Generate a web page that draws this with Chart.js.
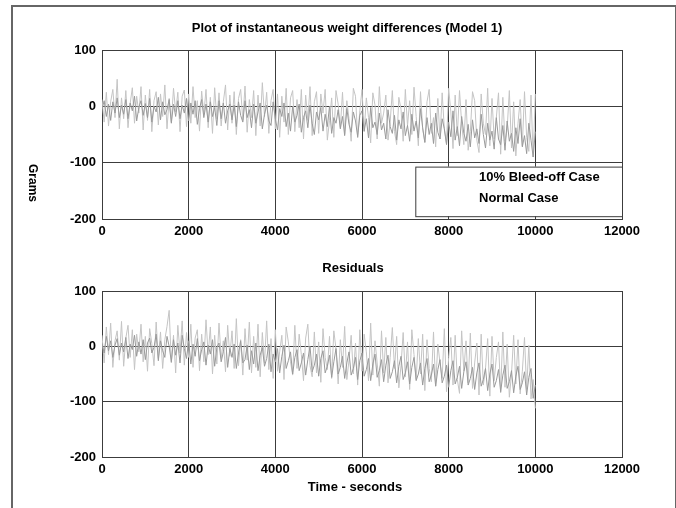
<!DOCTYPE html>
<html>
<head>
<meta charset="utf-8">
<script src="https://cdn.jsdelivr.net/npm/chart.js@4.4.1/dist/chart.umd.min.js"></script>
<style>
    body { margin: 0; background: #fff; }
    #frame { position: absolute; left: 11px; top: 5px; width: 662px; height: 520px; border: 2px solid #666; border-bottom: none; }
    canvas { position: absolute; left: 0; }
    #top { top: 0; }
    #bottom { top: 250px; }
</style>
</head>
<body>
<div id="frame"></div>
<canvas id="top" width="676" height="250"></canvas>
<canvas id="bottom" width="676" height="258"></canvas>
<script>
const timeStep = 50; // seconds between samples
const xTicks = [0, 2000, 4000, 6000, 8000, 10000, 12000];
const yTicks = [-200, -100, 0, 100];
const legendLabels = ['10% Bleed-off Case', 'Normal Case'];

// top plot - instantaneous weight differences
const bleedDiff = [
    12, -28, 25, -35, 8, 30, -20, 48, -40, 15,
    -22, 28, -38, 5, 33, -30, 18, -12, 35, -42,
    20, -25, 30, -45, 10, 26, -33, 22, -18, 38,
    -40, 14, -28, 32, -10, 25, -45, 18, 29, -36,
    22, -30, 35, -20, 10, -44, 27, -15, 30, -38,
    16, -48, 33, -22, 24, -35, 8, 38, -42, 20,
    -30, 26, -50, 14, 30, -25, 36, -46, 12, -20,
    28, -52, 20, -35, 42, -18, 25, -48, 10, 30,
    -40, 22, -55, 18, -28, 32, -50, 15, 28, -45,
    12, -38, 30, -58, 20, -25, 35, -52, 8, 26,
    -48, 22, -12, 30, -60, -25, 15, -55, 28, 4,
    -38, 25, -50, 10, -22, -62, 32, 18, -56, -8,
    30, -45, 15, -20, -65, 24, 2, -58, 35, -30,
    -12, 20, -60, -28, 28, -45, -68, 16, -5, -62,
    30, -35, 10, -50, 34, -18, -70, 26, -40, -64,
    8, 30, -48, -20, -72, 14, -58, 24, -40, -66,
    32, -10, -75, 20, -52, 28, -30, -68, 12, -78,
    -45, 26, 10, -60, -82, 22, -30, -50, 32, -70,
    14, -58, -20, 24, -85, 16, -62, -40, 28, -74,
    8, -88, -30, 12, -70, 26, -55, -80, 20, -90,
    22
];
const normalDiff = [
    -5, 10, -18, 4, -25, 8, -12, 15, -20, 2,
    -14, 12, -22, 6, -8, 18, -26, -2, 10, -16,
    5, -20, 14, -28, 0, -10, 16, -24, 8, -15,
    -6, 12, -30, 4, -18, 10, -22, 2, -12, 14,
    -26, 6, -14, 10, -32, -4, 12, -20, 4, -28,
    8, -18, -2, -34, 10, -22, 6, -30, -8, 4,
    -24, 2, -36, 8, -16, -28, 10, -20, -6, -38,
    4, -30, -10, 6, -40, -14, 2, -26, -34, 8,
    -22, -42, -4, -18, 6, -36, -12, -44, 0, -28,
    -16, 4, -46, -20, -8, -38, 2, -30, -50, -10,
    -24, -2, -44, -14, -36, 0, -48, -20, -30, -6,
    -40, -18, -52, -4, -32, -46, -10, -26, -54, -16,
    -8, -44, -22, -56, -2, -38, -28, -50, -12, -42,
    -30, -58, -6, -36, -48, -16, -60, -24, -40, -10,
    -52, -34, -62, -14, -44, -26, -56, -4, -38, -64,
    -20, -50, -30, -66, -12, -46, -58, -22, -40, -68,
    -28, -54, -8, -60, -36, -70, -18, -48, -62, -32,
    -72, -24, -56, -40, -66, -14, -50, -74, -30, -60,
    -44, -76, -20, -58, -68, -34, -78, -26, -62, -48,
    -80, -38, -66, -22, -72, -52, -84, -30, -60, -90,
    -45
];

// bottom plot - residuals
const bleedResid = [
    20, -30, 35, -15, 42, -38, 10, 28, -25, 45,
    -36, 15, 38, -20, 30, -42, 22, -10, 40, -28,
    18, -45, 32, 5, -35, 44, -22, 26, -40, 12,
    36, 65, -30, 20, -48, 38, -12, 46, -34, 25,
    -20, 40, -38, 15, 30, -44, 22, -28, 48, -15,
    35, -50, 20, -32, 42, -22, 10, -46, 38, -18,
    28, -40, 50, -35, 12, -52, 32, -25, 44, -48,
    18, -38, 40, -55, 25, -30, 46, -42, 14, -58,
    30, -45, -10, 20, -60, 35, 8, -28, -52, 38,
    -40, 22, -15, -62, 15, 40, -35, -55, 26, -48,
    8, -65, 32, -20, -42, 18, -58, 28, -5, -68,
    12, -38, 36, -60, -25, 20, -50, 6, -70, 30,
    -45, 22, -10, -62, 42, -52, 10, -30, -72, 28,
    -48, 16, -66, -20, 34, -40, 18, -75, -35, 25,
    -55, 8, -78, 30, -15, -60, 14, -50, 22, -80,
    12, -40, -64, 26, -72, 4, -30, -58, 32, -82,
    -20, 16, -70, 20, -60, -85, 28, -45, 10, -66,
    24, -76, -30, 6, -88, 22, -70, -40, 14, -90,
    18, -62, -20, 8, -84, 26, -74, 4, -92, -50,
    20, -68, 12, -86, -45, 16, -78, 2, -95, -60,
    -112
];
const normalResid = [
    5, -12, 18, -8, 10, -20, 2, 14, -16, 6,
    -10, 16, -22, 4, -6, 20, -18, 8, -14, 12,
    -24, 6, 15, -12, -2, 22, -26, 10, -8, -20,
    18, 0, -28, 12, -16, 6, -30, 20, -4, -22,
    10, -32, 4, -18, 14, -26, -6, 8, -34, 2,
    -14, 12, -36, -2, 6, -28, -10, 16, -38, -4,
    -20, 4, -40, -12, 10, -30, -24, 2, -42, -8,
    -32, 6, -44, -16, -2, -36, -22, 4, -46, -14,
    -28, -4, -48, -18, 2, -40, -26, -10, -50, -20,
    -6, -44, -30, -12, -52, -24, 0, -46, -34, -14,
    -54, -22, -8, -48, -36, -16, -56, -28, -4, -50,
    -38, -18, -58, -30, -10, -52, -40, -20, -60, -26,
    -12, -54, -42, -22, -62, -32, -14, -56, -44, -24,
    -64, -34, -16, -58, -46, -26, -66, -36, -18, -60,
    -48, -28, -68, -38, -20, -62, -50, -30, -70, -40,
    -22, -64, -52, -32, -72, -42, -24, -66, -54, -34,
    -74, -44, -26, -68, -56, -36, -76, -46, -28, -70,
    -58, -38, -78, -48, -30, -72, -60, -40, -80, -50,
    -32, -74, -62, -42, -82, -52, -34, -76, -64, -44,
    -84, -54, -36, -78, -66, -46, -88, -56, -40, -94,
    -70
];

const lightGray = '#c4c4c4';
const darkGray = '#9a9a9a';
const gridColor = '#3c3c3c';
const tickFont = { family: 'Liberation Sans, Arial, sans-serif', size: 13, weight: 'bold' };

function toPoints(values) {
    return values.map((v, i) => ({ x: i * timeStep, y: v }));
}

function text(ctx, str, x, y, size, rot) {
    ctx.save();
    ctx.font = 'bold ' + size + 'px Liberation Sans, Arial, sans-serif';
    ctx.fillStyle = '#000';
    ctx.textAlign = 'center';
    ctx.textBaseline = 'middle';
    ctx.translate(x, y);
    if (rot) ctx.rotate(rot);
    ctx.fillText(str, 0, 0);
    ctx.restore();
}

const topExtras = {
    id: 'topExtras',
    afterDraw(c) {
        const ctx = c.ctx;
        text(ctx, 'Plot of instantaneous weight differences (Model 1)', 347, 28, 13);
        text(ctx, 'Grams', 32, 183, 12, Math.PI / 2);
        // legend box
        const x0 = c.scales.x.getPixelForValue(7230);
        const x1 = c.chartArea.right;
        const y0 = c.scales.y.getPixelForValue(-107);
        const y1 = c.scales.y.getPixelForValue(-195);
        ctx.save();
        ctx.fillStyle = '#fff';
        ctx.fillRect(x0, y0, x1 - x0, y1 - y0);
        ctx.strokeStyle = gridColor;
        ctx.lineWidth = 1;
        ctx.strokeRect(x0 + 0.5, y0 + 0.5, x1 - x0, y1 - y0);
        ctx.font = 'bold 13px Liberation Sans, Arial, sans-serif';
        ctx.fillStyle = '#000';
        ctx.textBaseline = 'middle';
        ctx.fillText(legendLabels[0], 479, 177);
        ctx.fillText(legendLabels[1], 479, 198);
        ctx.restore();
    }
};

const bottomExtras = {
    id: 'bottomExtras',
    afterDraw(c) {
        text(c.ctx, 'Residuals', 353, 18, 13);
        text(c.ctx, 'Time - seconds', 355, 237, 13);
    }
};

function makeChart(id, bleed, normal, padTop, xHeight, extras) {
    const ctx = document.getElementById(id).getContext('2d');
    return new Chart(ctx, {
        type: 'line',
        data: {
            datasets: [{
                label: legendLabels[1],
                data: toPoints(normal),
                borderColor: darkGray,
                borderWidth: 1,
                pointRadius: 0,
                order: 1
            }, {
                label: legendLabels[0],
                data: toPoints(bleed),
                borderColor: lightGray,
                borderWidth: 1,
                pointRadius: 0,
                order: 2
            }]
        },
        options: {
            responsive: false,
            animation: false,
            layout: { padding: { top: padTop, right: 54, left: 0, bottom: 0 } },
            plugins: { legend: { display: false }, tooltip: { enabled: false } },
            scales: {
                x: {
                    type: 'linear',
                    min: xTicks[0],
                    max: xTicks[xTicks.length - 1],
                    afterBuildTicks: s => { s.ticks = xTicks.map(v => ({ value: v })); },
                    afterFit: s => { s.height = xHeight; },
                    grid: { color: gridColor, drawTicks: false },
                    border: { color: gridColor },
                    ticks: { font: tickFont, color: '#000', padding: 5, maxRotation: 0, callback: v => String(v) }
                },
                y: {
                    min: yTicks[0],
                    max: yTicks[yTicks.length - 1],
                    afterBuildTicks: s => { s.ticks = yTicks.map(v => ({ value: v })); },
                    afterFit: s => { s.width = 102; },
                    grid: { color: gridColor, drawTicks: false },
                    border: { color: gridColor },
                    ticks: { font: tickFont, color: '#000', padding: 6, callback: v => String(v) }
                }
            }
        },
        plugins: [extras]
    });
}

makeChart('top', bleedDiff, normalDiff, 50, 31, topExtras);
makeChart('bottom', bleedResid, normalResid, 41, 51, bottomExtras);
</script>
</body>
</html>
